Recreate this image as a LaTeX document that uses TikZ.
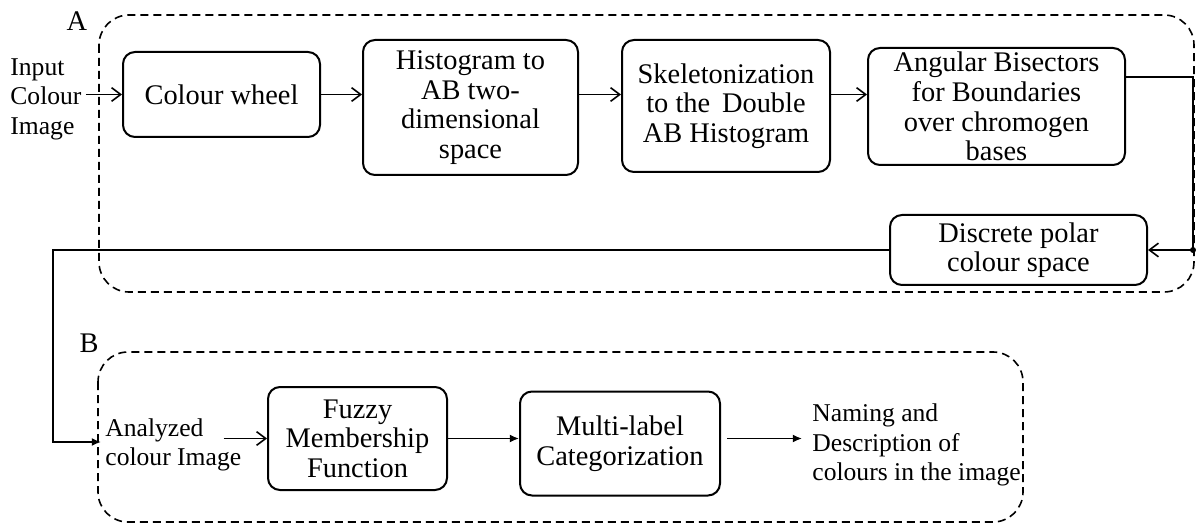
\documentclass[tikz,border=0pt]{standalone}
\usepackage{fontspec}
\setmainfont{Liberation Serif}
\usepackage{tikz}
\usetikzlibrary{arrows.meta,positioning,calc}

\begin{document}
\begin{tikzpicture}[
  x=0.5pt, y=-0.5pt,
  font=\fontsize{14.2}{14.8}\selectfont,
  stage/.style={draw, line width=1pt, rounded corners=6pt, align=center, inner sep=0pt},
  txt/.style={align=left, inner sep=2pt, font=\fontsize{12.8}{14.8}\selectfont},
  group/.style={draw, line width=0.8pt, dash pattern=on 4pt off 2.5pt, rounded corners=15pt},
  arr/.style={-{Straight Barb[length=1.6mm,width=2.4mm]}, line width=0.8pt},
  farr/.style={-{Latex[length=1.6mm,width=1.4mm]}, line width=0.8pt}
]
\useasboundingbox (0,0) rectangle (1196,524);
% dashed groups
\draw[group] (99,15) rectangle (1194,292);
\draw[group] (98,352) rectangle (1023,522);
\node (lblA) at (77,21) {A};
\node (lblB) at (89,343) {B};
% part A
\node[txt, anchor=west] (inp) at (6,99) {Input\\Colour\\Image};
\node[stage, minimum width=98.5pt, minimum height=42.5pt] (cw) at (221.5,94.5) {Colour wheel};
\node[stage, minimum width=107.5pt, minimum height=67.5pt] (hist) at (470.5,107.5) {Histogram to\\AB two-\\dimensional\\space};
\node[stage, minimum width=104pt, minimum height=66pt] (skel) at (726,106) {Skeletonization\\to the\, Double\\AB Histogram};
\node[stage, minimum width=128.5pt, minimum height=58.5pt] (ang) at (996.5,106.5) {Angular Bisectors\\for Boundaries\\over chromogen\\bases};
\node[stage, minimum width=128.5pt, minimum height=35pt] (disc) at (1018.5,250) {Discrete polar\\colour space};
% part B
\node[txt, anchor=west] (anl) at (101,445) {Analyzed\\colour Image};
\node[stage, minimum width=89.5pt, minimum height=51.5pt] (fuzzy) at (357.5,438.5) {Fuzzy\\Membership\\Function};
\node[stage, minimum width=100pt, minimum height=52pt] (multi) at (620,443.5) {Multi-label\\Categorization};
\node[txt, anchor=west] (nam) at (808,445) {Naming and\\Description of\\colours in the image};
\coordinate (dot) at (1193,250);
\coordinate (bend) at (53,250);
% connectors
\draw[arr] (inp.east |- cw) -- (cw.west);
\draw[arr] (cw.east) -- (cw.east -| hist.west);
\draw[arr] (hist.east |- cw) -- (skel.west |- cw);
\draw[arr] (skel.east |- cw) -- (ang.west |- cw);
\draw[line width=0.8pt] ($(ang.north east)!0.25!(ang.south east)$) -| (dot);
\draw[arr] (dot) -- (disc.east);
\fill (dot) circle (1.5pt);
\draw[farr] (disc.west) -- (bend) |- ([yshift=1.5pt]anl.west);
\draw[arr] ([xshift=-11pt]anl.east |- fuzzy.west) -- (fuzzy.west);
\draw[farr] (fuzzy.east) -- (fuzzy.east -| multi.west);
\draw[farr] ([xshift=3pt]multi.east |- fuzzy.east) -- ([xshift=-3pt]nam.west |- fuzzy.east);
\end{tikzpicture}
\end{document}
